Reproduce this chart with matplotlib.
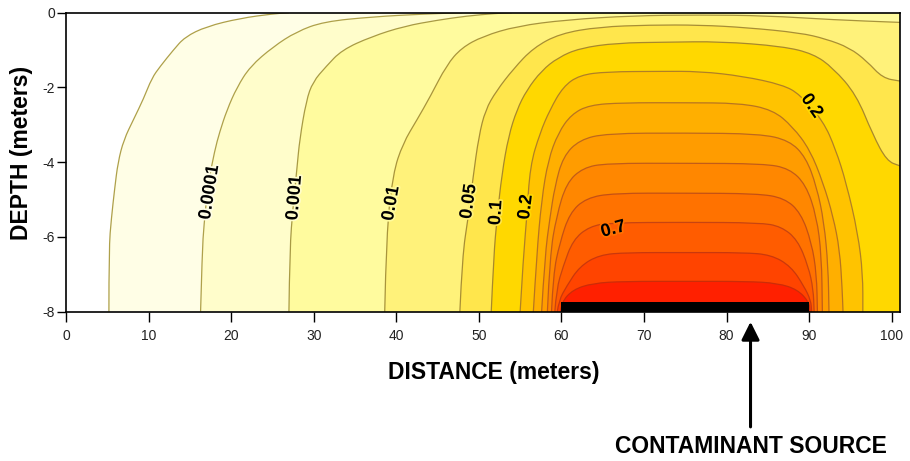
import matplotlib
matplotlib.use("Agg")
import matplotlib.pyplot as plt
import matplotlib.patheffects as pe
from matplotlib.patches import Rectangle, PathPatch
from matplotlib.path import Path

plt.rcParams['font.family'] = ['Liberation Sans', 'DejaVu Sans']
plt.rcParams['axes.unicode_minus'] = False

# contour levels (relative concentration) and the traced iso-lines
levels = [1e-5, 1e-4, 1e-3, 1e-2, 0.05, 0.1, 0.2, 0.3, 0.4, 0.5, 0.6, 0.7, 0.8, 0.9]

c_x = {
    1e-5: [5.2, 5.2, 5.5, 5.9, 6.3, 7.0, 8.2, 9.4, 10.4, 11.4, 13.0, 14.4, 17.0, 21.1, 25.1, 27.0],
    1e-4: [16.3, 16.5, 16.7, 17.2, 18.0, 18.6, 19.5, 20.7, 22.3, 25.1, 27.9, 31.2, 37.2, 43.0, 48.0],
    1e-3: [27.0, 27.1, 27.5, 28.0, 28.3, 29.1, 29.9, 31.5, 33.4, 37.0, 41.0, 45.0, 48.5, 52.0, 54.0],
    1e-2: [38.6, 38.8, 39.6, 40.8, 42.5, 44.1, 46.1, 47.9, 50.5, 54.6, 60.6, 68.7, 76.8, 84.8, 92.9, 101.0],
    0.05: [47.7, 48.0, 48.7, 49.3, 50.0, 50.8, 52.1, 54.2, 56.6, 59.8, 64.6, 70.7, 76.8, 82.5, 88.9, 92.0,
           94.9, 97.0, 98.9, 101.0],
    0.1: [51.5, 51.8, 52.2, 52.8, 53.6, 54.6, 55.8, 57.6, 59.6, 62.2, 66.7, 72.7, 79.2, 86.8, 90.5, 92.9,
          95.7, 97.7, 99.4, 101.0],
    0.2: [55.0, 55.4, 55.8, 56.2, 57.4, 58.6, 60.2, 62.2, 65.5, 72.0, 76.8, 82.0, 86.8, 88.9, 91.7, 93.2,
          94.5, 95.9, 96.5, 96.5],
    0.3: [56.6, 57.0, 57.6, 58.4, 59.6, 61.2, 63.4, 67.4, 75.0, 81.6, 85.6, 88.0, 90.1, 91.7, 92.9, 93.7,
          94.0, 94.1],
    0.4: [57.6, 58.0, 58.6, 59.2, 60.2, 62.2, 65.5, 75.0, 84.0, 87.6, 89.6, 90.9, 91.8, 92.3, 92.4],
    0.5: [58.3, 58.6, 59.4, 60.6, 62.6, 65.5, 75.0, 84.5, 87.6, 89.6, 90.9, 91.5, 91.6],
    0.6: [58.8, 59.0, 59.8, 61.0, 63.0, 66.3, 75.0, 83.7, 87.0, 89.0, 90.3, 90.9, 91.0],
    0.7: [59.2, 59.4, 60.2, 61.4, 63.4, 66.0, 75.0, 84.0, 86.6, 88.6, 89.9, 90.5, 90.6],
    0.8: [59.5, 59.7, 60.6, 62.2, 64.6, 67.9, 75.0, 82.1, 85.4, 87.8, 89.4, 90.2, 90.3],
    0.9: [59.9, 60.0, 61.4, 63.8, 67.5, 75.0, 82.5, 86.2, 88.6, 90.0, 90.1],
}
c_z = {
    1e-5: [-8, -6.3, -5.5, -4.7, -4.0, -3.4, -2.85, -2.3, -1.75, -1.44, -1.0, -0.65, -0.37, -0.15, -0.03, 0.0],
    1e-4: [-8, -6.4, -5.7, -4.6, -3.7, -3.2, -2.6, -2.0, -1.44, -0.91, -0.51, -0.24, -0.11, -0.04, 0.0],
    1e-3: [-8, -6.3, -5.2, -4.1, -3.4, -2.35, -1.85, -1.44, -1.0, -0.64, -0.36, -0.2, -0.09, -0.02, 0.0],
    1e-2: [-8, -5.9, -4.3, -3.5, -2.87, -2.25, -1.4, -0.94, -0.63, -0.36, -0.19, -0.08, -0.06, -0.08,
           -0.19, -0.26],
    0.05: [-8, -6.5, -5.5, -4.4, -3.3, -2.6, -2.1, -1.5, -0.94, -0.56, -0.38, -0.33, -0.33, -0.4, -0.54,
           -0.7, -0.94, -1.3, -1.75, -1.83],
    0.1: [-8, -6.5, -5.5, -4.3, -3.3, -2.6, -2.07, -1.55, -1.2, -0.95, -0.81, -0.79, -0.77, -0.9, -1.1,
          -1.48, -2.19, -3.26, -3.97, -4.1],
    0.2: [-8, -6.5, -5.5, -4.1, -3.22, -2.6, -1.98, -1.67, -1.58, -1.57, -1.57, -1.7, -1.93, -2.19, -2.9,
          -3.65, -4.56, -5.9, -7.0, -8],
    0.3: [-8, -6.5, -5.0, -3.94, -3.22, -2.72, -2.47, -2.41, -2.41, -2.42, -2.6, -3.05, -3.67, -4.56,
          -5.45, -6.35, -7.4, -8],
    0.4: [-8, -6.5, -5.5, -4.65, -3.85, -3.4, -3.23, -3.22, -3.24, -3.42, -3.87, -4.65, -5.6, -6.8, -8],
    0.5: [-8, -6.5, -5.45, -4.56, -4.15, -4.03, -4.03, -4.04, -4.17, -4.6, -5.45, -6.5, -8],
    0.6: [-8, -7.0, -6.16, -5.36, -4.96, -4.83, -4.83, -4.84, -4.96, -5.36, -6.16, -7.0, -8],
    0.7: [-8, -7.4, -6.79, -6.08, -5.72, -5.62, -5.61, -5.62, -5.72, -6.08, -6.79, -7.4, -8],
    0.8: [-8, -7.7, -7.33, -6.79, -6.48, -6.42, -6.42, -6.42, -6.48, -6.79, -7.33, -7.7, -8],
    0.9: [-8, -7.75, -7.41, -7.24, -7.19, -7.19, -7.19, -7.24, -7.41, -7.75, -8],
}

label_text = ['0.0001', '0.001', '0.01', '0.05', '0.1', '0.2', '0.7', '0.2']
label_x = [17.4, 27.7, 39.4, 48.8, 52.1, 55.7, 66.3, 90.3]
label_z = [-4.8, -4.95, -5.1, -5.05, -5.35, -5.2, -5.8, -2.5]
label_rot = [81, 85, 80, 82, 86, 83, 15, -55]
label_band = [0, 1, 2, 3, 4, 5, 10, 5]

source_start, source_end, source_top = 60.0, 90.0, -7.75
arrow_x = 82.9

fill_colors = ['#FFFEE6', '#FFFDCB', '#FFFB9E', '#FFF27A', '#FFE64C', '#FFD800', '#FFC300',
               '#FFAF00', '#FF9C00', '#FF8700', '#FF7200', '#FF5C00', '#FF4400', '#FF2000']
line_colors = ['#AEA04A', '#AEA04A', '#A89A44', '#A8943C', '#A88E34', '#A8882C', '#B08026',
               '#B87420', '#BE681C', '#C25C18', '#C45014', '#C84410', '#CA380C', '#CC2C08']


def smooth_path(xs, zs, extra=()):
    # quadratic bezier through the midpoints, traced vertices act as control points
    pts = list(zip(xs, zs))
    verts = [pts[0]]
    codes = [Path.MOVETO]
    for i in range(1, len(pts) - 1):
        mid = ((pts[i][0] + pts[i + 1][0]) / 2, (pts[i][1] + pts[i + 1][1]) / 2)
        verts += [pts[i], mid]
        codes += [Path.CURVE3, Path.CURVE3]
    verts.append(pts[-1])
    codes.append(Path.LINETO)
    for p in extra:
        verts.append(p)
        codes.append(Path.LINETO)
    if extra:
        verts.append(pts[0])
        codes.append(Path.CLOSEPOLY)
    return Path(verts, codes)


fig = plt.figure(figsize=(9.1, 4.61), dpi=100)
ax = fig.add_axes([0.0725, 0.324, 0.9165, 0.6485])
ax.set_xlim(0, 101)
ax.set_ylim(-8, 0)

for i, lev in enumerate(levels):
    xs, zs = c_x[lev], c_z[lev]
    if zs[-1] == 0.0:
        extra = [(101, 0), (101, -8)]
    elif xs[-1] >= 101:
        extra = [(101, -8)]
    else:
        extra = [(xs[0], zs[0])]
    ax.add_patch(PathPatch(smooth_path(xs, zs, extra), facecolor=fill_colors[i],
                           edgecolor='none', lw=0, zorder=1))
for i, lev in enumerate(levels):
    ax.add_patch(PathPatch(smooth_path(c_x[lev], c_z[lev]), facecolor='none',
                           edgecolor=line_colors[i], lw=0.9, zorder=2))

ax.add_patch(Rectangle((source_start, -8), source_end - source_start, source_top + 8,
                       facecolor='black', edgecolor='none', zorder=3, clip_on=False))

for t, x, z, r, b in zip(label_text, label_x, label_z, label_rot, label_band):
    ax.text(x, z, t, rotation=r, ha='center', va='center', fontsize=13, fontweight='bold',
            color='black', zorder=4, rotation_mode='anchor',
            path_effects=[pe.withStroke(linewidth=2.5, foreground=fill_colors[b])])

ax.set_xticks(range(0, 101, 10))
ax.set_yticks([0, -2, -4, -6, -8])
ax.tick_params(axis='x', direction='out', length=7.5, width=1, labelsize=10, pad=5,
               labelcolor='#222222')
ax.tick_params(axis='y', direction='out', length=6.3, width=1, labelsize=10, pad=1.5,
               labelcolor='#222222')
for s in ax.spines.values():
    s.set_linewidth(1.2)
    s.set_zorder(5)

fig.text(0.5423, 0.193, 'DISTANCE (meters)', ha='center', va='center', fontsize=16.5,
         fontweight='bold')
fig.text(0.024, 0.668, 'DEPTH (meters)', ha='center', va='center', rotation=90, fontsize=16.5,
         fontweight='bold')

ax.annotate('', xy=(arrow_x, 0.302), xytext=(arrow_x, 0.074),
            xycoords=('data', 'figure fraction'), textcoords=('data', 'figure fraction'),
            arrowprops=dict(arrowstyle='-|>,head_length=0.6,head_width=0.3', lw=2.2,
                            color='black', mutation_scale=18, shrinkA=0, shrinkB=0))
fig.text(0.8253, 0.0304, 'CONTAMINANT SOURCE', ha='center', va='center', fontsize=16.5,
         fontweight='bold')

plt.savefig("out.png", dpi=100)
plt.close(fig)
